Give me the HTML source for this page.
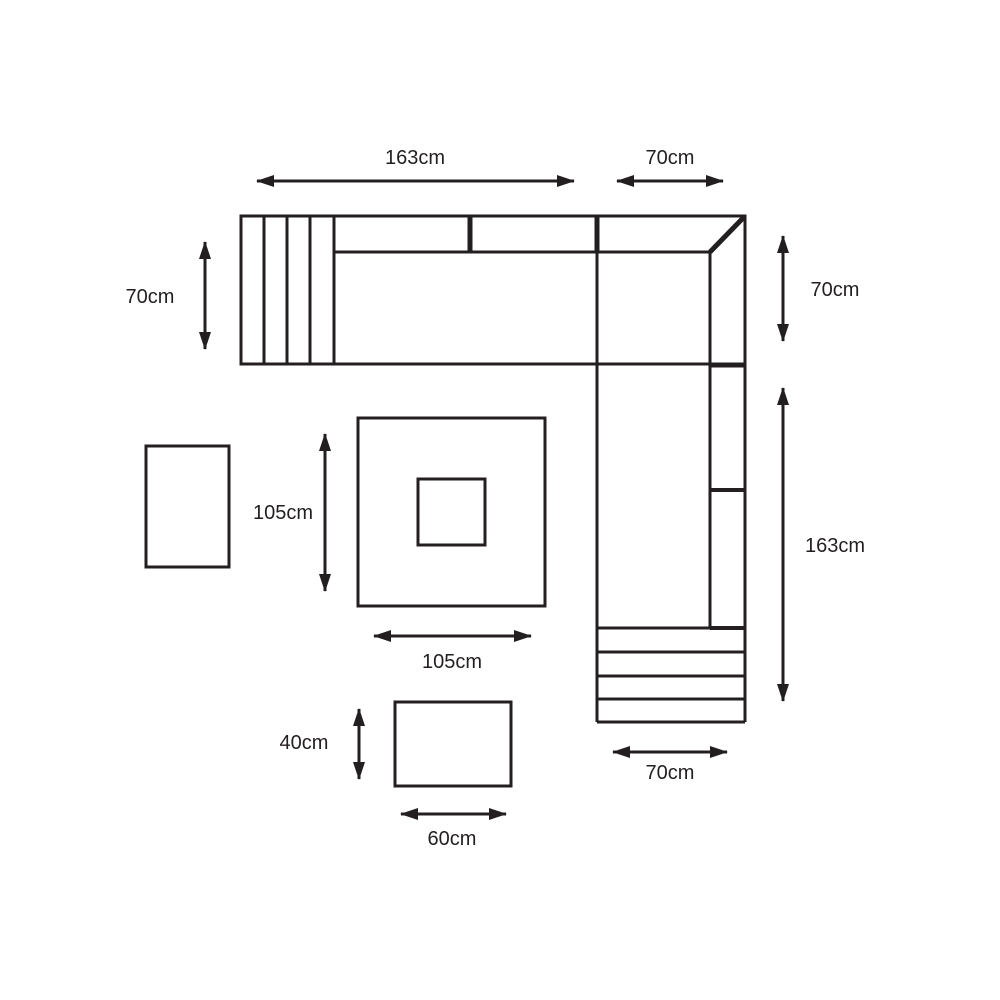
<!DOCTYPE html>
<html><head><meta charset="utf-8"><style>
html,body{margin:0;padding:0;background:#fff;width:1000px;height:1000px;overflow:hidden}
text{font-family:"Liberation Sans",sans-serif;font-size:20px;fill:#231f20;text-anchor:middle}
</style></head><body>
<svg width="1000" height="1000" viewBox="0 0 1000 1000" xmlns="http://www.w3.org/2000/svg">
<defs>
<marker id="a" viewBox="0 0 18 12" refX="17" refY="6" markerWidth="18" markerHeight="12" markerUnits="userSpaceOnUse" orient="auto-start-reverse">
<path d="M0,0 L18,6 L0,12 Z" fill="#231f20"/></marker>
</defs>
<g stroke="#231f20" stroke-width="3" fill="none">
<!-- top section -->
<rect x="241" y="216" width="504" height="148"/>
<line x1="264" y1="216" x2="264" y2="364"/>
<line x1="287" y1="216" x2="287" y2="364"/>
<line x1="310" y1="216" x2="310" y2="364"/>
<line x1="334" y1="216" x2="334" y2="364"/>
<line x1="334" y1="252" x2="710" y2="252"/>
<line x1="470" y1="216" x2="470" y2="252" stroke-width="5"/>
<line x1="597" y1="216" x2="597" y2="252" stroke-width="5"/>
<line x1="597" y1="252" x2="597" y2="722"/>
<line x1="710" y1="252" x2="710" y2="628"/>
<line x1="710" y1="252" x2="745" y2="216" stroke-width="5"/>
<line x1="745" y1="216" x2="745" y2="722"/>
<line x1="710" y1="365" x2="745" y2="365" stroke-width="5"/>
<line x1="710" y1="490" x2="745" y2="490" stroke-width="4"/>
<line x1="710" y1="628" x2="745" y2="628" stroke-width="4"/>
<line x1="597" y1="628" x2="745" y2="628"/>
<line x1="597" y1="652" x2="745" y2="652"/>
<line x1="597" y1="676" x2="745" y2="676"/>
<line x1="597" y1="699" x2="745" y2="699"/>
<line x1="597" y1="722" x2="745" y2="722"/>
<!-- tables -->
<rect x="358" y="418" width="187" height="188"/>
<rect x="418" y="479" width="67" height="66"/>
<rect x="146" y="446" width="83" height="121"/>
<rect x="395" y="702" width="116" height="84"/>
</g>
<g stroke="#231f20" stroke-width="3" marker-start="url(#a)" marker-end="url(#a)">
<line x1="257" y1="181" x2="574" y2="181"/>
<line x1="617" y1="181" x2="723" y2="181"/>
<line x1="205" y1="242" x2="205" y2="349"/>
<line x1="783" y1="236" x2="783" y2="341"/>
<line x1="783" y1="388" x2="783" y2="701"/>
<line x1="325" y1="434" x2="325" y2="591"/>
<line x1="374" y1="636" x2="531" y2="636"/>
<line x1="613" y1="752" x2="727" y2="752"/>
<line x1="359" y1="709" x2="359" y2="779"/>
<line x1="401" y1="814" x2="506" y2="814"/>
</g>
<text x="415" y="164">163cm</text>
<text x="670" y="164">70cm</text>
<text x="150" y="303">70cm</text>
<text x="835" y="296">70cm</text>
<text x="835" y="552">163cm</text>
<text x="283" y="519">105cm</text>
<text x="452" y="668">105cm</text>
<text x="670" y="779">70cm</text>
<text x="304" y="749">40cm</text>
<text x="452" y="845">60cm</text>
</svg>
</body></html>
